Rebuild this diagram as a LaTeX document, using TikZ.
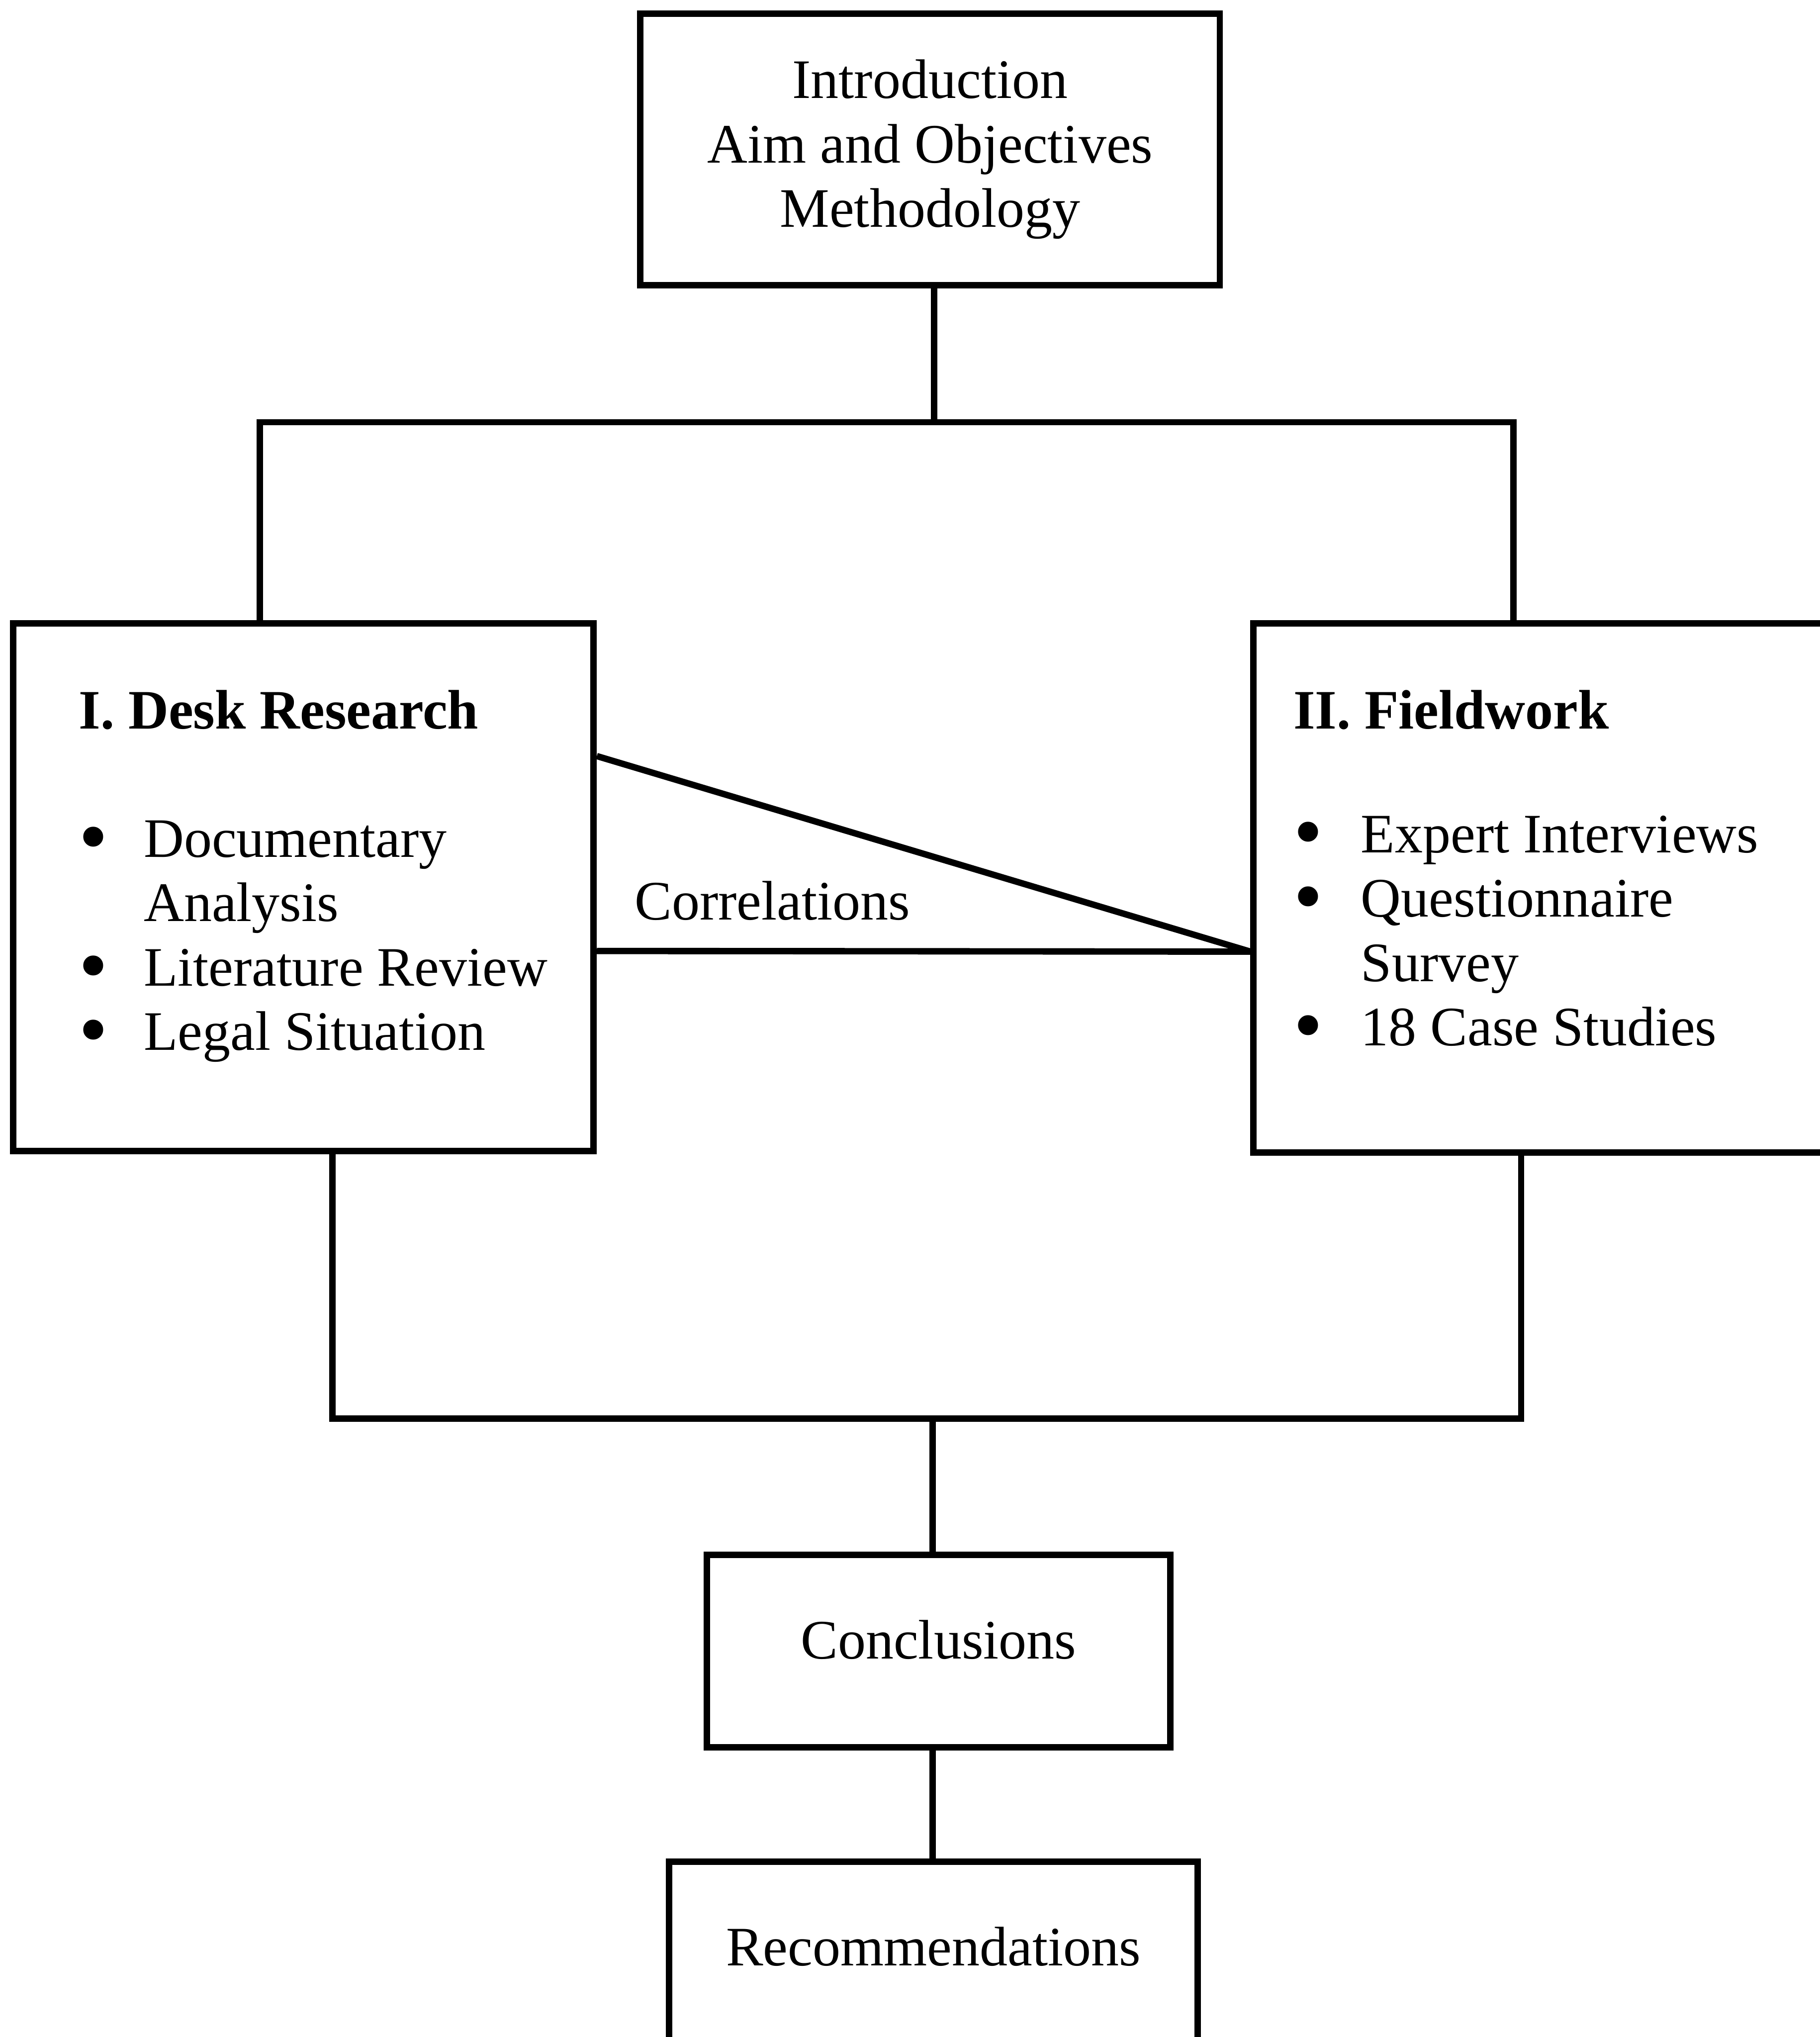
\documentclass[tikz,border=0pt]{standalone}
\usepackage{fontspec}
\setmainfont{Liberation Serif}
\usetikzlibrary{positioning,calc}
\newcommand{\bigbullet}{\smash{\raisebox{-1.6pt}{\scalebox{1.5}{\textbullet}}}}

\begin{document}
\begin{tikzpicture}[
    every node/.style={font=\fontsize{12.2}{14.1}\selectfont},
    box/.style={rectangle, draw, line width=1.4pt, align=center, inner sep=0pt},
    label/.style={inner sep=0pt},
    link/.style={line width=1.4pt}
]
\useasboundingbox (0,0) rectangle (14.01,-15.68);
\clip (0,0) rectangle (14.01,-15.68);
\node[box, minimum width=4.46cm, minimum height=2.09cm] (intro) at (7.16,-1.15) {Introduction\\Aim and Objectives\\Methodology};
\node[box, minimum width=4.47cm, minimum height=4.06cm] (desk) at (2.335,-6.83) {};
\node[box, minimum width=4.47cm, minimum height=4.07cm] (field) at (11.885,-6.835) {};
\node[box, minimum width=3.57cm, minimum height=1.48cm, text depth=0.18cm] (concl) at (7.225,-12.71) {Conclusions};
\node[box, minimum width=4.07cm, minimum height=1.48cm, text depth=0.18cm] (recom) at (7.185,-15.07) {Recommendations};
\node[label, anchor=base west] (desklist) at (0.60,-5.61) {\begin{tabular}[t]{@{}p{0.5cm}@{}l@{}}
\multicolumn{2}{@{}l@{}}{\textbf{I. Desk Research}}\\[14pt]
\bigbullet & Documentary\\
 & Analysis\\
\bigbullet & Literature Review\\
\bigbullet & Legal Situation
\end{tabular}};
\node[label, anchor=base west] (fieldlist) at (9.95,-5.61) {\begin{tabular}[t]{@{}p{0.52cm}@{}l@{}}
\multicolumn{2}{@{}l@{}}{\textbf{II. Fieldwork}}\\[13pt]
\bigbullet & Expert Interviews\\
\bigbullet & Questionnaire\\
 & Survey\\
\bigbullet & 18 Case Studies
\end{tabular}};
\node[label, anchor=base west] (corr) at (4.88,-7.08) {Correlations};
\coordinate (top) at (7.19,-3.25);
\coordinate (bot) at (7.18,-10.92);
\draw[link] (intro.south -| top) -- (top);
\draw[link] ([xshift=-0.335cm]desk.north) |- (top) -| ([xshift=-0.235cm]field.north);
\draw[link] ([yshift=1.01cm]desk.east) -- ([yshift=-0.49cm]field.west);
\draw[link] ([yshift=-0.49cm]desk.east) -- ([yshift=-0.49cm]field.west);
\draw[link] ([xshift=0.225cm]desk.south) |- (bot) -| ([xshift=-0.175cm]field.south);
\draw[link] (bot) -- (concl.north -| bot);
\draw[link] (concl.south -| bot) -- (recom.north -| bot);
\end{tikzpicture}
\end{document}
